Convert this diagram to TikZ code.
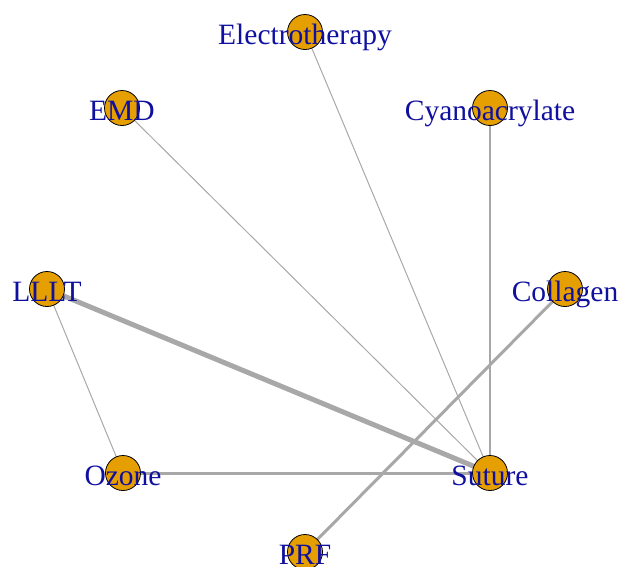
\documentclass[tikz,border=0pt]{standalone}
\usepackage{fontspec}
\setmainfont{Liberation Serif}
\usetikzlibrary{backgrounds}
\definecolor{vfill}{HTML}{E69F00}
\definecolor{vlabel}{HTML}{1010A0}
\definecolor{elink}{HTML}{A8A8A8}
\begin{document}
\begin{tikzpicture}[x=1pt,y=-1pt,
  vertex/.style={circle,draw=black,fill=vfill,line width=0.8pt,minimum size=35pt,inner sep=0pt},
  vtext/.style={text=vlabel,font=\fontsize{29.5}{31}\selectfont,inner sep=0pt,anchor=base,yshift=-12pt},
  link/.style={draw=elink,line width=#1},
  link/.default=1pt]
\useasboundingbox (0,0) rectangle (618,566);
% vertices
\node[vertex] (elec) at (305,32) {};
\node[vertex] (emd)  at (122,108) {};
\node[vertex] (cyan) at (490,108) {};
\node[vertex] (lllt) at (47,289) {};
\node[vertex] (coll) at (565,289) {};
\node[vertex] (ozon) at (123,473) {};
\node[vertex] (sut)  at (490,473) {};
\node[vertex] (prf)  at (305,552) {};
% vertex labels, set over the discs
\node[vtext] (elec-t) at (elec) {Electrotherapy};
\node[vtext] (emd-t)  at (emd)  {EMD};
\node[vtext] (cyan-t) at (cyan) {Cyanoacrylate};
\node[vtext] (lllt-t) at (lllt) {LLLT};
\node[vtext] (coll-t) at (coll) {Collagen};
\node[vtext] (ozon-t) at (ozon) {Ozone};
\node[vtext] (sut-t)  at (sut)  {Suture};
\node[vtext] (prf-t)  at (prf)  {PRF};
% edges, weighted, behind the vertices
\begin{scope}[on background layer]
\draw[link=5pt]   (lllt.center) -- (sut.center);
\draw[link=3pt]   (ozon.center) -- (sut.center);
\draw[link=3pt]   (coll.center) -- (prf.center);
\draw[link=2pt]   (cyan.center) -- (sut.center);
\draw[link]       (elec.center) -- (sut.center);
\draw[link]       (emd.center)  -- (sut.center);
\draw[link]       (lllt.center) -- (ozon.center);
\end{scope}
\end{tikzpicture}
\end{document}
